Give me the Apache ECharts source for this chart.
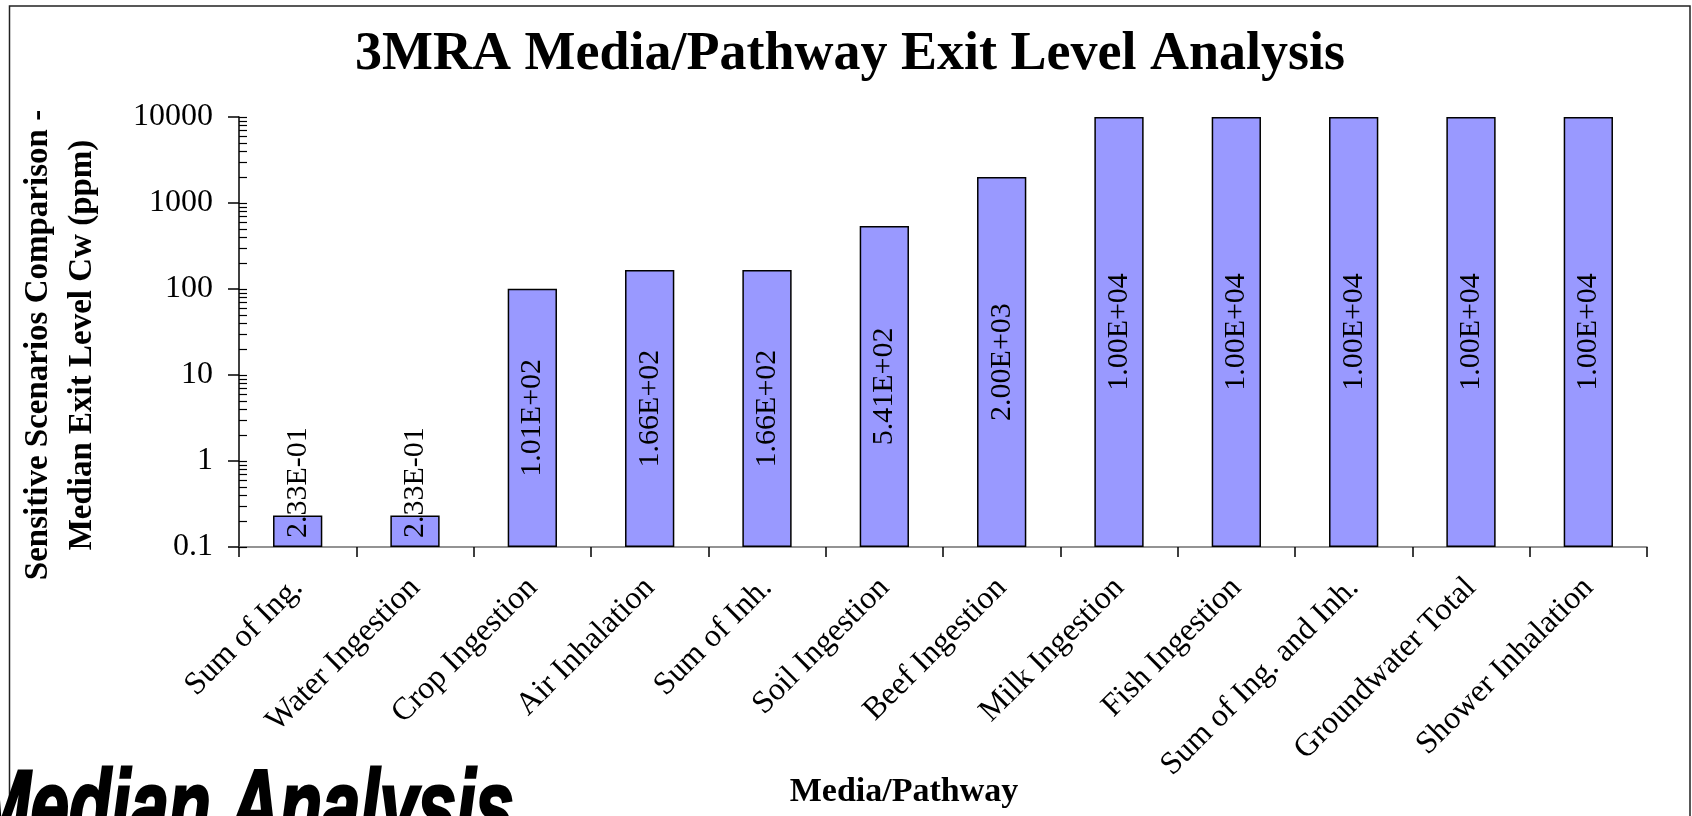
<!DOCTYPE html>
<html>
<head>
<meta charset="utf-8">
<script src="https://cdn.jsdelivr.net/npm/echarts@6/dist/echarts.min.js"></script>
<style>
  html, body { margin: 0; padding: 0; background: #ffffff; }
  #chart { width: 1692px; height: 816px; }
</style>
</head>
<body>
<div id="chart"></div>
<script>
// Median exit level Cw (ppm) per media / pathway
const categories = [
  'Sum of Ing.', 'Water Ingestion', 'Crop Ingestion', 'Air Inhalation',
  'Sum of Inh.', 'Soil Ingestion', 'Beef Ingestion', 'Milk Ingestion',
  'Fish Ingestion', 'Sum of Ing. and Inh.', 'Groundwater Total', 'Shower Inhalation'
];
const exitLevels = [0.233, 0.233, 101, 166, 166, 541, 2000, 10000, 10000, 10000, 10000, 10000];

// Log axis: decade tick labels and the minor multipliers inside each decade
const yTickLabels = ['0.1', '1', '10', '100', '1000', '10000'];
const minorMultipliers = [2, 3, 4, 5, 6, 7, 8, 9];
const yMin = 0.1;
const yMax = 10000;

const SERIF = '"Liberation Serif", "Times New Roman", Times, serif';

// Excel-style scientific notation, e.g. 2.33E-01
function sci(v) {
  const parts = v.toExponential(2).split('e');
  const e = parseInt(parts[1], 10);
  return parts[0] + 'E' + (e < 0 ? '-' : '+') + String(Math.abs(e)).padStart(2, '0');
}

// tick positions on the helper axis (log10 space)
const decadeExps = [];
for (let e = Math.log10(yMin); e <= Math.log10(yMax) + 1e-9; e++) decadeExps.push(Math.round(e));
const innerTicks = [];
decadeExps.forEach(function (e, i) {
  innerTicks.push(e);
  if (i < decadeExps.length - 1) {
    minorMultipliers.forEach(function (m) { innerTicks.push(e + Math.log10(m)); });
  }
});

// short bars get their label stacked upward from the base
const barData = exitLevels.map(function (v) {
  const short = Math.log10(v / yMin) < 1.5;
  if (!short) return v;
  return {
    value: v,
    label: {
      position: 'insideBottom',
      distance: 9,
      align: 'left',
      verticalAlign: 'middle'
    }
  };
});

const chart = echarts.init(document.getElementById('chart'), null, { renderer: 'canvas' });

chart.setOption({
  backgroundColor: '#ffffff',
  animation: false,
  title: {
    text: '3MRA Media/Pathway Exit Level Analysis',
    left: 850,
    top: 28,
    textAlign: 'center',
    padding: 0,
    textStyle: { fontFamily: SERIF, fontWeight: 'bold', fontSize: 54, color: '#000' }
  },
  grid: { left: 239, right: 45, top: 117, bottom: 269, containLabel: false },
  xAxis: {
    type: 'category',
    data: categories,
    boundaryGap: true,
    axisLine: { show: true, onZero: false, lineStyle: { color: '#707070', width: 1.5 } },
    axisTick: { show: true, alignWithLabel: false, length: 10, lineStyle: { color: '#000', width: 1.5 } },
    axisLabel: {
      interval: 0,
      rotate: 45,
      margin: 36,
      fontFamily: SERIF,
      fontSize: 32,
      color: '#000'
    },
    splitLine: { show: false }
  },
  yAxis: [
    {
      type: 'log',
      logBase: 10,
      min: yMin,
      max: yMax,
      startValue: yMin,
      position: 'left',
      axisLine: { show: true, lineStyle: { color: '#000', width: 1.5 } },
      axisTick: { show: true, inside: false, length: 11, lineStyle: { color: '#000', width: 1.5 } },
      axisLabel: {
        margin: 26,
        fontFamily: SERIF,
        fontSize: 32,
        color: '#000',
        formatter: function (v) {
          const idx = Math.round(Math.log10(v) - Math.log10(yMin));
          return yTickLabels[idx] !== undefined ? yTickLabels[idx] : '';
        }
      },
      splitLine: { show: false }
    },
    {
      // helper axis in log10 units carrying the inner major + minor ticks
      type: 'value',
      min: Math.log10(yMin),
      max: Math.log10(yMax),
      position: 'left',
      axisLine: { show: false },
      axisLabel: { show: false },
      splitLine: { show: false },
      axisTick: {
        show: true,
        inside: true,
        length: 8,
        customValues: innerTicks,
        lineStyle: { color: '#000', width: 1.2 }
      }
    }
  ],
  series: [
    {
      type: 'bar',
      yAxisIndex: 0,
      data: barData,
      barWidth: '42%',
      itemStyle: { color: '#9999FF', borderColor: '#000', borderWidth: 1.5 },
      label: {
        show: true,
        position: 'inside',
        rotate: 90,
        fontFamily: SERIF,
        fontSize: 30,
        color: '#000',
        formatter: function (p) { return sci(p.value); }
      },
      emphasis: { disabled: true }
    }
  ],
  graphic: [
    {
      type: 'rect',
      silent: true,
      shape: { x: 9.5, y: 6, width: 1680.5, height: 900 },
      style: { fill: 'none', stroke: '#222', lineWidth: 1.5 }
    },
    {
      type: 'text',
      silent: true,
      x: 60,
      y: 345,
      rotation: Math.PI / 2,
      style: {
        text: 'Sensitive Scenarios Comparison -\nMedian Exit Level Cw (ppm)',
        fontFamily: SERIF,
        fontWeight: 'bold',
        fontSize: 33,
        lineHeight: 44,
        align: 'center',
        verticalAlign: 'middle',
        fill: '#000'
      }
    },
    {
      type: 'text',
      silent: true,
      x: 904,
      y: 792,
      style: {
        text: 'Media/Pathway',
        fontFamily: SERIF,
        fontWeight: 'bold',
        fontSize: 34,
        align: 'center',
        verticalAlign: 'middle',
        fill: '#000'
      }
    },
    {
      type: 'text',
      silent: true,
      x: -27,
      y: 812,
      scaleX: 0.69,
      style: {
        text: 'Median Analysis',
        fontFamily: '"Liberation Sans", Arial, sans-serif',
        fontWeight: 900,
        fontStyle: 'italic',
        fontSize: 100,
        lineHeight: 100,
        align: 'left',
        verticalAlign: 'middle',
        fill: '#000',
        stroke: '#000',
        lineWidth: 3
      }
    }
  ]
});
</script>
</body>
</html>
